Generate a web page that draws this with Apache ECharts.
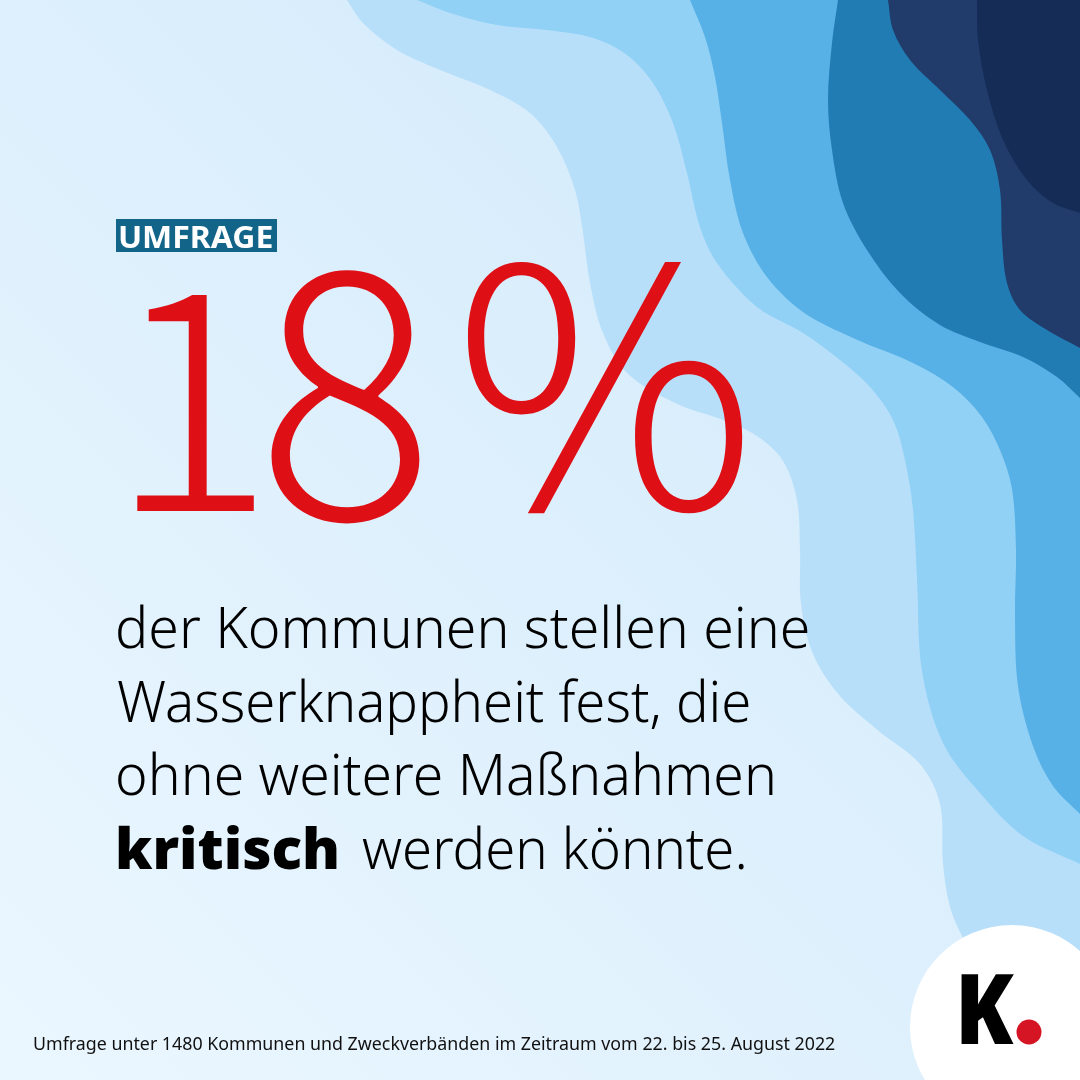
<!DOCTYPE html>
<html>
<head>
<meta charset="utf-8">
<style>
  html, body { margin: 0; padding: 0; }
  #chart { width: 1080px; height: 1080px; }
</style>
<script src="https://cdn.jsdelivr.net/npm/echarts@6/dist/echarts.min.js"></script>
</head>
<body>
<div id="chart"></div>
<script>
// text of the card
const kicker = "UMFRAGE";
const heroValue = ["1", "8", "%"];
const bodyLines = ["der Kommunen stellen eine", "Wasserknappheit fest, die", "ohne weitere Maßnahmen"];
const emphasis = "kritisch";
const lastLine = "werden könnte.";
const source = "Umfrage unter 1480 Kommunen und Zweckverbänden im Zeitraum vom 22. bis 25. August 2022";

// water layers, back to front
const waveColors = ["#b8dffa", "#90d1f5", "#57b0e6", "#227cb4", "#213c6b", "#152c56"];
const waveEdges = [
  [[347,0],[363,23],[397,50],[440,70],[490,90],[530,113],[557,147],[575,190],[583,233],[590,283],[603,333],[627,373],[675,403],[723,420],[757,436],[783,461],[797,500],[800,550],[801,604],[813,654],[840,696],[880,732],[920,764],[940,804],[943,864],[950,907],[962,936],[985,980]],
  [[417,0],[450,13],[497,25],[547,30],[593,38],[627,55],[653,83],[673,123],[687,173],[700,227],[717,263],[757,307],[803,333],[840,360],[870,387],[893,420],[905,460],[913,510],[917,579],[922,671],[943,743],[980,793],[1023,836],[1080,864]],
  [[690,0],[705,37],[715,77],[722,123],[730,180],[743,233],[767,277],[803,312],[853,338],[913,363],[953,387],[982,417],[1000,450],[1012,489],[1016,550],[1015,614],[1018,686],[1033,746],[1053,786],[1080,814]],
  [[838,0],[832,43],[828,100],[832,150],[843,203],[867,250],[900,293],[940,325],[980,342],[1023,357],[1057,377],[1080,398]],
  [[888,0],[893,30],[910,60],[940,90],[970,120],[990,150],[1000,190],[1002,240],[1007,283],[1020,310],[1047,330],[1080,348]],
  [[977,0],[978,40],[987,90],[1003,140],[1027,180],[1053,203],[1080,213]]
];

var chart = echarts.init(document.getElementById("chart"), null, { renderer: "canvas" });
var ctx = document.createElement("canvas").getContext("2d");

function dist(a, b) {
  return Math.hypot(a[0] - b[0], a[1] - b[1]);
}

// spline through the edge points (tangents by chord length, the points are not evenly spaced)
function wavePath(pts) {
  var tangent = pts.map(function (p, i) {
    var a = pts[Math.max(i - 1, 0)];
    var b = pts[Math.min(i + 1, pts.length - 1)];
    var len = dist(a, p) + dist(p, b);
    return [(b[0] - a[0]) / len, (b[1] - a[1]) / len];
  });
  var d = "M" + pts[0][0] + " " + pts[0][1];
  for (var i = 0; i < pts.length - 1; i++) {
    var p1 = pts[i];
    var p2 = pts[i + 1];
    var h = dist(p1, p2) / 3;
    d += "C" + (p1[0] + tangent[i][0] * h) + " " + (p1[1] + tangent[i][1] * h) + " " +
      (p2[0] - tangent[i + 1][0] * h) + " " + (p2[1] - tangent[i + 1][1] * h) + " " + p2[0] + " " + p2[1];
  }
  var last = pts[pts.length - 1];
  if (last[0] < 1080) d += "L1080 1080";
  return d + "L1080 0Z";
}

// text placed by baseline and left edge, squeezed to the width wanted
function label(text, font, fill, left, baseline, width) {
  ctx.font = font;
  ctx.textBaseline = "middle";
  var m = ctx.measureText(text);
  var inkW = m.actualBoundingBoxRight + m.actualBoundingBoxLeft;
  var sx = width ? width / inkW : 1;
  var hm = ctx.measureText("H");
  return {
    type: "text",
    x: left + m.actualBoundingBoxLeft * sx,
    y: baseline - hm.actualBoundingBoxDescent,
    scaleX: sx,
    style: { text: text, x: 0, y: 0, font: font, fill: fill, align: "left", verticalAlign: "middle" },
    z: 10
  };
}

var elements = [
  {
    type: "rect",
    shape: { x: 0, y: 0, width: 1080, height: 1080 },
    style: {
      fill: new echarts.graphic.LinearGradient(0, 1, 1, 0, [
        { offset: 0, color: "#ebf7ff" },
        { offset: 1, color: "#cfe8fa" }
      ])
    }
  }
];

waveEdges.forEach(function (edge, i) {
  echarts.graphic.registerShape("wave" + i, echarts.graphic.extendPath(wavePath(edge), {}));
  elements.push({ type: "wave" + i, style: { fill: waveColors[i] }, z: i + 1 });
});

var body = '300 57px "Noto Sans"';
var bodyWidths = [690, 631, 655];
var bodyBase = [648, 722, 795];
var hero = '"Noto Sans CJK SC"';

elements.push(
  { type: "rect", shape: { x: 116, y: 219, width: 161, height: 33 }, style: { fill: "#126489" }, z: 10 },
  label(kicker, '700 31px "Noto Sans"', "#ffffff", 120, 248, 152),
  label(heroValue[0], '300 305px ' + hero, "#df0f16", 133, 511, 121),
  label(heroValue[1], '300 345px ' + hero, "#df0f16", 267, 519, 156),
  label(heroValue[2], '300 333px ' + hero, "#df0f16", 464, 509, 280)
);
bodyLines.forEach(function (line, i) {
  elements.push(label(line, body, "#000000", 118, bodyBase[i], bodyWidths[i]));
});
elements.push(
  label(emphasis, '900 57px "Noto Sans"', "#000000", 118, 869, 219),
  label(lastLine, body, "#000000", 362, 869, 382),
  label(source, '400 18px "Noto Sans"', "#111111", 34, 1050, 801),
  { type: "circle", shape: { cx: 1012, cy: 1027, r: 102 }, style: { fill: "#ffffff" }, z: 11 },
  Object.assign(label("K", '900 98px "Noto Sans"', "#000000", 961, 1044, 53), { z: 12 }),
  { type: "circle", shape: { cx: 1029, cy: 1032, r: 12.5 }, style: { fill: "#d51424" }, z: 12 }
);

var option = {
  animation: false,
  graphic: { elements: elements }
};

chart.setOption(option);
</script>
</body>
</html>
